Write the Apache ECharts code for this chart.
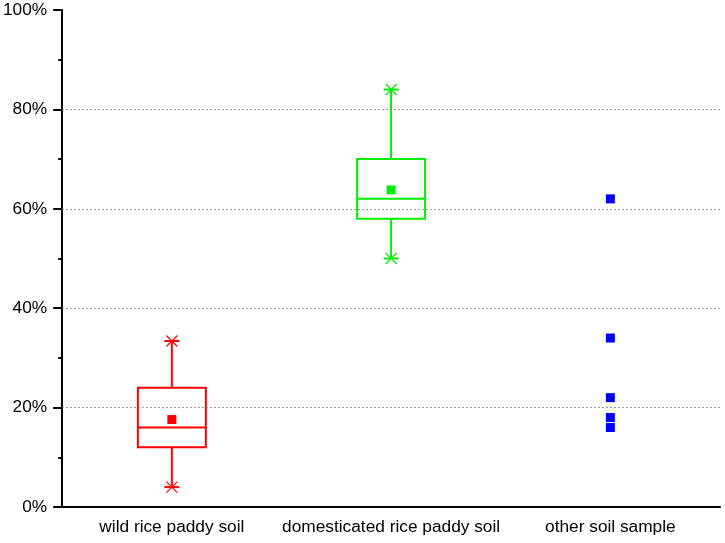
<!DOCTYPE html>
<html>
<head>
<meta charset="utf-8">
<script src="https://cdn.jsdelivr.net/npm/echarts@6/dist/echarts.min.js"></script>
<style>html,body{margin:0;padding:0;background:#fff;}#c{width:725px;height:543px;}</style>
</head>
<body>
<div id="c"></div>
<script>
const categories = ['wild rice paddy soil', 'domesticated rice paddy soil', 'other soil sample'];
// [min, Q1, median, Q3, max]
const wildStats = [4, 12, 16, 24, 33.4];
const domesticatedStats = [50, 58, 62, 70, 84];
const wildMean = 17.6;
const domesticatedMean = 63.8;
const otherSamples = [62, 34, 22, 18, 16];
const gridLineValues = [20, 40, 60, 80];

const RED = '#ff0000', GREEN = '#00ee00', BLUE = '#0000ff';
const boxData = [[0].concat(wildStats), [1].concat(domesticatedStats)];
const boxColors = [RED, GREEN];

function renderBox(params, api) {
  const i = api.value(0);
  const vals = [api.value(1), api.value(2), api.value(3), api.value(4), api.value(5)];
  const cx = api.coord([i, 0])[0];
  const band = api.size([1, 0])[0];
  const hw = band * 0.155;
  const cap = 7.5;
  const ys = vals.map(v => api.coord([i, v])[1]);
  const color = boxColors[params.dataIndex];
  const st = { stroke: color, lineWidth: 2, fill: null };
  const ch = [];
  ch.push({ type: 'rect', shape: { x: cx - hw, y: ys[3], width: 2 * hw, height: ys[1] - ys[3] }, style: st });
  ch.push({ type: 'line', shape: { x1: cx - hw, y1: ys[2], x2: cx + hw, y2: ys[2] }, style: st });
  ch.push({ type: 'line', shape: { x1: cx, y1: ys[3], x2: cx, y2: ys[4] }, style: st });
  ch.push({ type: 'line', shape: { x1: cx, y1: ys[1], x2: cx, y2: ys[0] }, style: st });
  [ys[0], ys[4]].forEach(y => {
    ch.push({ type: 'line', shape: { x1: cx - cap, y1: y, x2: cx + cap, y2: y }, style: st });
    ch.push({ type: 'line', shape: { x1: cx - 5.5, y1: y - 5.5, x2: cx + 5.5, y2: y + 5.5 }, style: { stroke: color, lineWidth: 1.2 } });
    ch.push({ type: 'line', shape: { x1: cx - 5.5, y1: y + 5.5, x2: cx + 5.5, y2: y - 5.5 }, style: { stroke: color, lineWidth: 1.2 } });
  });
  return { type: 'group', children: ch };
}

const chart = echarts.init(document.getElementById('c'), null, { renderer: 'canvas' });
chart.setOption({
  animation: false,
  grid: { left: 62, right: 5, top: 10, bottom: 36 },
  xAxis: {
    type: 'category',
    data: categories,
    axisLine: { lineStyle: { color: '#000', width: 2 } },
    axisTick: { alignWithLabel: true, length: 6, lineStyle: { color: '#000', width: 2 } },
    axisLabel: { interval: 0, color: '#000', fontSize: 17.3, fontFamily: 'Liberation Sans, Arial', margin: 12 },
    splitLine: { show: false }
  },
  yAxis: {
    type: 'value',
    min: 0, max: 100, interval: 20,
    axisLine: { show: true, lineStyle: { color: '#000', width: 2 } },
    axisTick: { show: true, inside: false, length: 9, lineStyle: { color: '#000', width: 2 } },
    minorTick: { show: true, splitNumber: 2, length: 4, lineStyle: { color: '#000', width: 2 } },
    axisLabel: { color: '#000', fontSize: 17.3, fontFamily: 'Liberation Sans, Arial', margin: 15, formatter: '{value}%' },
    splitLine: { show: false }
  },
  series: [
    {
      type: 'line', data: [], silent: true,
      markLine: {
        silent: true, symbol: 'none', label: { show: false },
        lineStyle: { color: '#777', type: [1.5, 2.5], width: 1 },
        data: gridLineValues.map(v => ({ yAxis: v }))
      }
    },
    { type: 'custom', renderItem: renderBox, data: boxData, encode: { x: 0, y: [1, 2, 3, 4, 5] }, z: 3 },
    {
      type: 'scatter', symbol: 'rect', symbolSize: 9, z: 4,
      data: [
        { value: [0, wildMean], itemStyle: { color: RED, opacity: 1 } },
        { value: [1, domesticatedMean], itemStyle: { color: GREEN, opacity: 1 } }
      ]
    },
    {
      type: 'scatter', symbol: 'rect', symbolSize: 9, z: 4,
      itemStyle: { color: BLUE, opacity: 1 },
      data: otherSamples.map(v => [2, v])
    }
  ]
});
</script>
</body>
</html>
